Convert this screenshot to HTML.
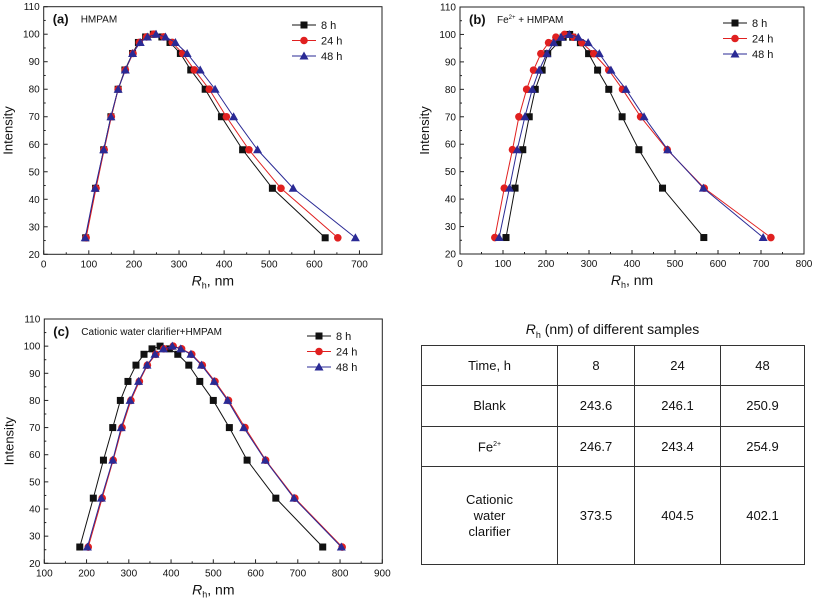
<!DOCTYPE html>
<html><head><meta charset="utf-8">
<style>
body{margin:0;background:#fff;width:814px;height:607px;overflow:hidden;font-family:"Liberation Sans",sans-serif;}
svg{position:absolute;left:0;top:0}
#tbl{position:absolute;left:421px;top:345px;border-collapse:collapse;font-size:13px;color:#111}
#tbl td{border:1.3px solid #333;text-align:center;padding:0;line-height:16px}
#ttl{position:absolute;left:421px;width:383px;top:321px;text-align:center;font-size:14px;color:#111}
</style></head><body>
<svg id="svg" width="814" height="607"></svg>
<div id="ttl"><i>R</i><sub style="font-size:9px">h</sub> (nm) of different samples</div>
<table id="tbl">
<tr style="height:40px"><td style="width:135px">Time, h</td><td style="width:76px">8</td><td style="width:85px">24</td><td style="width:83px">48</td></tr>
<tr style="height:41px"><td>Blank</td><td>243.6</td><td>246.1</td><td>250.9</td></tr>
<tr style="height:40px"><td>Fe<sup style="font-size:7px">2+</sup></td><td>246.7</td><td>243.4</td><td>254.9</td></tr>
<tr style="height:98px"><td>Cationic<br>water<br>clarifier</td><td>373.5</td><td>404.5</td><td>402.1</td></tr>
</table>
<script>
const yLevels=[26,44,58,70,80,87,93,97,99,100,99,97,93,87,80,70,58,44,26];
const seriesNames=["8 h","24 h","48 h"];
const aX8=[93,115,133,149,165,180,197,210,226,243,262,280,303,326,358,394,441,507,624];
const aX24=[94,116,134,150,165,181,198,212,228,244,266,285,308,334,367,405,455,526,652];
const aX48=[92,114,133,149,165,181,197,214,230,249,270,292,318,347,380,421,474,553,691];
const bX8=[107,128,146,161,175,191,204,228,240,255,262,280,299,320,346,377,416,471,567];
const bX24=[81,103,122,137,155,171,188,206,223,243,264,283,311,346,378,420,482,568,723];
const bX48=[91,115,133,151,168,184,202,218,235,254,275,298,324,351,386,428,483,566,705];
const cX8=[184,216,240,262,280,298,317,336,355,374,396,416,442,468,500,538,580,648,759];
const cX24=[204,237,263,284,305,325,344,364,383,405,425,449,474,504,536,575,624,693,805];
const cX48=[202,235,262,282,303,323,343,362,382,403,423,447,472,502,534,572,623,691,803];
const aXTicks=[0,100,200,300,400,500,600,700];
const bXTicks=[0,100,200,300,400,500,600,700,800];
const cXTicks=[100,200,300,400,500,600,700,800,900];
const yTicks=[20,30,40,50,60,70,80,90,100,110];
const colors=["#111","#e02020","#2a2a95"];
const NS="http://www.w3.org/2000/svg";
const svg=document.getElementById('svg');
function mk(t,a,p){const e=document.createElementNS(NS,t);for(const k in a)e.setAttribute(k,a[k]);(p||svg).appendChild(e);return e;}
function chart(o){
  const g=mk('g',{});
  
  
  const sx=v=>o.L+(v-o.x0)/(o.x1-o.x0)*(o.R-o.L);
  const sy=v=>o.B-(v-20)/90*(o.B-o.T);
  const f=mk('rect',{x:o.L,y:o.T,width:o.R-o.L,height:o.B-o.T,fill:'none',stroke:'#222','stroke-width':1},g);
  
  o.xt.forEach((v,i)=>{const x=sx(v);mk('line',{x1:x,x2:x,y1:o.B,y2:o.B-4,stroke:'#222'},g);
    if(i<o.xt.length-1){const xm=sx(v+(o.xt[1]-o.xt[0])/2);mk('line',{x1:xm,x2:xm,y1:o.B,y2:o.B-2,stroke:'#222'},g);}
    const t=mk('text',{x:x,y:o.B+13,'font-size':10,'text-anchor':'middle',fill:'#111'},g);t.textContent=v;
    });
  yTicks.forEach((v,i)=>{const y=sy(v);mk('line',{x1:o.L,x2:o.L+4,y1:y,y2:y,stroke:'#222'},g);
    if(i<yTicks.length-1){const ym=sy(v+5);mk('line',{x1:o.L,x2:o.L+2,y1:ym,y2:ym,stroke:'#222'},g);}
    const t=mk('text',{x:o.L-4,y:y+3.5,'font-size':10,'text-anchor':'end',fill:'#111'},g);t.textContent=v;
    });
  const yt=mk('text',{x:0,y:0,'font-size':13,'text-anchor':'middle',fill:'#111',transform:`translate(${o.L-31},${(o.T+o.B)/2}) rotate(-90)`},g);
  yt.textContent='Intensity';
  const xt=mk('text',{x:(o.L+o.R)/2,y:o.B+31,'font-size':14,'text-anchor':'middle',fill:'#111'},g);
  xt.innerHTML='<tspan font-style="italic">R</tspan><tspan font-size="9" dy="3">h</tspan><tspan dy="-3">, nm</tspan>';
  
  const lb=mk('text',{x:o.L+9,y:o.T+17,'font-size':13,'font-weight':'bold',fill:'#111'},g);lb.textContent=o.label;
  
  const ti=mk('text',{x:o.L+37,y:o.T+16,'font-size':10,fill:'#111'},g);ti.innerHTML=o.title;
  
  o.series.forEach((xs,si)=>{
    const c=colors[si];
    const pl=mk('polyline',{points:xs.map((x,i)=>sx(x)+','+sy(yLevels[i])).join(' '),fill:'none',stroke:c,'stroke-width':1},g);
    
    xs.forEach((x,i)=>{marker(g,sx(x),sy(yLevels[i]),si,'data-point');});
    const ly=o.lgY+si*15.5;
    mk('line',{x1:o.lgX,x2:o.lgX+24,y1:ly,y2:ly,stroke:c,'stroke-width':1},g);
    marker(g,o.lgX+12,ly,si,'legend-marker');
    const lt=mk('text',{x:o.lgX+29,y:ly+4,'font-size':11,fill:'#111'},g);lt.textContent=seriesNames[si];
    
  });
}
function marker(g,x,y,si,nm){
  let m;const c=colors[si];
  if(si===0)m=mk('rect',{x:x-3.5,y:y-3.5,width:7,height:7,fill:c},g);
  else if(si===1)m=mk('circle',{cx:x,cy:y,r:3.8,fill:c},g);
  else m=mk('polygon',{points:`${x},${y-4.5} ${x+4.5},${y+3.5} ${x-4.5},${y+3.5}`,fill:c},g);
  
}
chart({name:'chart-a',L:43.7,R:382,T:6.7,B:254.3,x0:0,x1:750,xt:aXTicks,label:'(a)',title:'HMPAM',series:[aX8,aX24,aX48],lgX:292,lgY:25});
chart({name:'chart-b',L:460,R:804,T:7,B:254,x0:0,x1:800,xt:bXTicks,label:'(b)',title:'Fe<tspan font-size="6" dy="-4">2+</tspan><tspan dy="4"> + HMPAM</tspan>',series:[bX8,bX24,bX48],lgX:723,lgY:23});
chart({name:'chart-c',L:44.3,R:382.3,T:319,B:563.3,x0:100,x1:900,xt:cXTicks,label:'(c)',title:'Cationic water clarifier+HMPAM',series:[cX8,cX24,cX48],lgX:307,lgY:336});
</script>
</body></html>
